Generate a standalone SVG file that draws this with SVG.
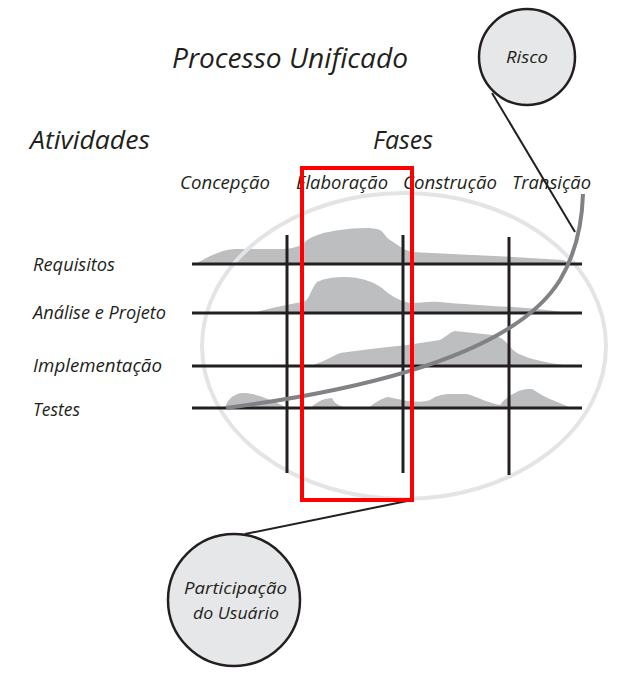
<svg xmlns="http://www.w3.org/2000/svg" width="631" height="684" viewBox="0 0 631 684">
<style>
.t{font-family:"Open Sans","Liberation Sans",sans-serif;font-style:italic;fill:#231f20}
.hump{fill:#bcbec0;stroke:none}
.grid{stroke:#231f20;stroke-width:3;fill:none}
.node{fill:#e6e7e8;stroke:#231f20;stroke-width:2.5}
</style>
<rect width="631" height="684" fill="#ffffff"/>
<text class="t" x="172" y="68" font-size="28" textLength="236" lengthAdjust="spacingAndGlyphs">Processo Unificado</text>
<text class="t" x="30" y="149" font-size="26" textLength="120" lengthAdjust="spacingAndGlyphs">Atividades</text>
<text class="t" x="373" y="149" font-size="26" textLength="60" lengthAdjust="spacingAndGlyphs">Fases</text>
<g id="phases">
<text class="t" x="180" y="189" font-size="18" textLength="90" lengthAdjust="spacingAndGlyphs">Concepção</text>
<text class="t" x="296" y="189" font-size="18" textLength="92" lengthAdjust="spacingAndGlyphs">Elaboração</text>
<text class="t" x="403" y="189" font-size="18" textLength="94" lengthAdjust="spacingAndGlyphs">Construção</text>
<text class="t" x="512" y="189" font-size="18" textLength="79" lengthAdjust="spacingAndGlyphs">Transição</text>
</g>
<g id="activities">
<text class="t" x="33" y="271" font-size="18.5" textLength="82" lengthAdjust="spacingAndGlyphs">Requisitos</text>
<text class="t" x="33" y="319" font-size="18.5" textLength="133" lengthAdjust="spacingAndGlyphs">Análise e Projeto</text>
<text class="t" x="33" y="372" font-size="18.5" textLength="129" lengthAdjust="spacingAndGlyphs">Implementação</text>
<text class="t" x="33" y="416" font-size="18.5" textLength="47" lengthAdjust="spacingAndGlyphs">Testes</text>
</g>
<g id="humps">
<path class="hump" d="M195,264 C210,256 220,250 235,249 L280,249 C290,249 295,248 303,244 C308,238 318,233 340,230 C355,228 372,227 380,230 C385,233 385,237 390,240 C398,245 404,250 412,252 L513,257 L563,260 L575,265 Z"/>
<path class="hump" d="M253,313 C270,308 285,305 303,302 C310,300 310,290 317,282 C325,278 335,277 345,277 C360,277 372,281 382,288 C390,295 397,300 410,303 C420,303 430,301 440,302 C460,304 490,306 513,307 C540,309 560,311 572,314 Z"/>
<path class="hump" d="M310,366 C318,364 325,360 340,353 C360,350 380,348 407,345 L440,340 C447,336 450,332 455,331 L493,335 C505,338 507,344 513,350 C520,356 535,360 550,363 L572,366 Z"/>
<path class="hump" d="M225,408 C227,400 233,394 242,393 C255,393 268,398 287,408 Z"/>
<path class="hump" d="M310,408 C315,404 320,400 325,399 L332,398 C334,402 336,405 347,408 Z"/>
<path class="hump" d="M368,408 C375,403 382,398 388,397 C395,398 400,400 408,401 C418,402 425,402 430,400 C436,396 440,395 447,394 L467,394 C478,397 488,403 500,405 C503,401 508,396 515,393 C520,390 523,389 532,389 C538,392 542,396 550,399 C560,403 566,406 572,408 Z"/>
</g>
<ellipse id="scope" cx="404" cy="346" rx="202" ry="153" fill="none" stroke="#e3e4e5" stroke-width="4"/>
<g id="grid">
<line class="grid" x1="192" y1="264" x2="582" y2="264"/>
<line class="grid" x1="192" y1="313" x2="582" y2="313"/>
<line class="grid" x1="192" y1="366" x2="582" y2="366"/>
<line class="grid" x1="192" y1="408" x2="582" y2="408"/>
<line class="grid" x1="287" y1="235" x2="287" y2="473"/>
<line class="grid" x1="403" y1="235" x2="403" y2="473"/>
<line class="grid" x1="509" y1="237" x2="509" y2="475"/>
</g>
<g id="connectors">
<path d="M226,408 C400,385 520,345 560,280 C575,255 582,225 583,194" fill="none" stroke="#808285" stroke-width="4"/>
<line x1="492" y1="93" x2="575" y2="232" stroke="#231f20" stroke-width="2"/>
<line x1="245" y1="534" x2="412" y2="500" stroke="#231f20" stroke-width="2"/>
</g>
<rect id="highlight" x="302" y="168" width="110" height="332" fill="none" stroke="#ff0000" stroke-width="4"/>
<g id="risco">
<circle class="node" cx="527" cy="57" r="48"/>
<text class="t" x="506" y="63" font-size="17" textLength="42" lengthAdjust="spacingAndGlyphs">Risco</text>
</g>
<g id="participacao">
<circle class="node" cx="234" cy="600" r="66"/>
<text class="t" x="184" y="594" font-size="16.5" textLength="103" lengthAdjust="spacingAndGlyphs">Participação</text>
<text class="t" x="193" y="619" font-size="16.5" textLength="86" lengthAdjust="spacingAndGlyphs">do Usuário</text>
</g>
</svg>
